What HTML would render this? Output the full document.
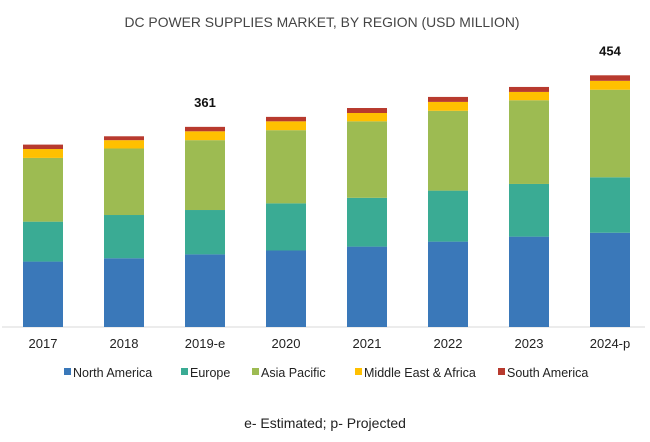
<!DOCTYPE html>
<html><head><meta charset="utf-8"><style>
body{margin:0;background:#fff;width:650px;height:437px;overflow:hidden;font-family:"Liberation Sans",sans-serif}
</style></head><body>
<svg id="chart" width="650" height="437" xmlns="http://www.w3.org/2000/svg">
<text x="322" y="27" text-anchor="middle" font-size="14" fill="#444" textLength="395" lengthAdjust="spacingAndGlyphs">DC POWER SUPPLIES MARKET, BY REGION (USD MILLION)</text>
<line x1="2" y1="327" x2="645" y2="327" stroke="#d9d9d9" stroke-width="1"/>
<g id="bars"></g>
<g id="legend"></g>
<text x="325" y="428" text-anchor="middle" font-size="14" fill="#222">e- Estimated; p- Projected</text>
</svg>
<script>
const categories=["2017","2018","2019-e","2020","2021","2022","2023","2024-p"];
const northAmerica=[118,124,131,138,145,154,163,170];
const europe=[72,78,80,85,88,92,95,100];
const asiaPacific=[115,120,126,132,138,144,151,158];
const middleEast=[16,15,16,16,15,16,15,16];
const southAmerica=[8,7,8,8,9,9,9,10];
const labels=["","", "361","","","","","454"];
const seriesNames=["North America","Europe","Asia Pacific","Middle East & Africa","South America"];
const series=[northAmerica,europe,asiaPacific,middleEast,southAmerica];
const colors=["#3a78b9","#3aab94","#9dbb52","#ffc000","#b83a2e"];
const NS="http://www.w3.org/2000/svg";
const base=327, k=251.7/454;
const y=v=>base-v*k;
const x=i=>23+i*81;
const bw=40;
const g=document.getElementById('bars');
categories.forEach((c,i)=>{
  let acc=0;
  series.forEach((s,j)=>{
    const r=document.createElementNS(NS,'rect');
    r.setAttribute('x',x(i));r.setAttribute('width',bw);
    r.setAttribute('y',y(acc+s[i]));r.setAttribute('height',s[i]*k);
    r.setAttribute('fill',colors[j]);
    
    
    g.appendChild(r);acc+=s[i];
  });
  const t=document.createElementNS(NS,'text');
  t.setAttribute('x',x(i)+bw/2);t.setAttribute('y',348);t.setAttribute('text-anchor','middle');
  t.setAttribute('font-size','13');t.setAttribute('fill','#222');t.textContent=c;
  
  
  g.appendChild(t);
  if(labels[i]){
    const l=document.createElementNS(NS,'text');
    l.setAttribute('x',x(i)+bw/2);l.setAttribute('y',y(acc)-20);l.setAttribute('text-anchor','middle');
    l.setAttribute('font-size','13');l.setAttribute('font-weight','bold');l.setAttribute('fill','#111');l.textContent=labels[i];
    
    
    g.appendChild(l);
  }
});
const lg=document.getElementById('legend');
const lx=[64,181,252,355,498];
seriesNames.forEach((n,j)=>{
  const r=document.createElementNS(NS,'rect');
  r.setAttribute('x',lx[j]);r.setAttribute('y',368);r.setAttribute('width',7);r.setAttribute('height',7);r.setAttribute('fill',colors[j]);
  
  
  lg.appendChild(r);
  const t=document.createElementNS(NS,'text');
  t.setAttribute('x',lx[j]+9);t.setAttribute('y',377);t.setAttribute('font-size','12.5');t.setAttribute('fill','#222');t.textContent=n;
  
  
  lg.appendChild(t);
});
</script>
</body></html>
